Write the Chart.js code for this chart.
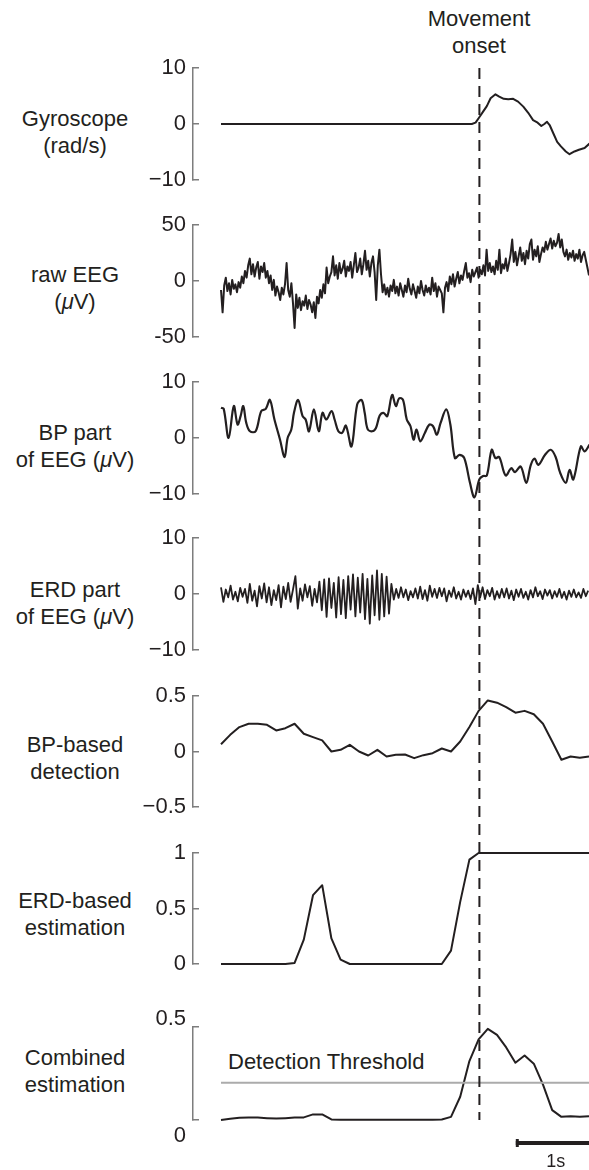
<!DOCTYPE html>
<html>
<head>
<meta charset="utf-8">
<script src="https://cdn.jsdelivr.net/npm/chart.js@4.4.0/dist/chart.umd.min.js"></script>
<style>
  body { margin: 0; background: #fff; }
  #fig { position: relative; width: 589px; height: 1170px; overflow: hidden;
         font-family: 'Liberation Sans', Arial, sans-serif; color: #231f20; }
  #fig canvas { position: absolute; left: 0; }
  .lbl { position: absolute; font-size: 22px; line-height: 27px; white-space: nowrap; }
  .side { left: 0; width: 150px; text-align: center; }
</style>
</head>
<body>
<div id="fig">
  <div class="lbl" style="left:409px;width:140px;top:5px;text-align:center">Movement<br>onset</div>
  <div class="lbl side" style="top:105px">Gyroscope<br>(rad/s)</div>
  <div class="lbl side" style="top:261px">raw EEG<br>(<i>μ</i>V)</div>
  <div class="lbl side" style="top:419px">BP part<br>of EEG (<i>μ</i>V)</div>
  <div class="lbl side" style="top:576px">ERD part<br>of EEG (<i>μ</i>V)</div>
  <div class="lbl side" style="top:731px">BP-based<br>detection</div>
  <div class="lbl side" style="top:887px">ERD-based<br>estimation</div>
  <div class="lbl side" style="top:1044px">Combined<br>estimation</div>
  <div class="lbl" style="left:228px;top:1048px">Detection Threshold</div>
</div>
<script>
// time in seconds, 0 = first sample
const onsetTime = 3.23;
const xMin = -0.35, xMax = 4.6;
const barStart = 3.685, barLength = 1;

// gyroscope (rad/s)
const gyroT = [0, 3.135, 3.182, 3.229, 3.276, 3.323, 3.370, 3.431, 3.478, 3.534, 3.591, 3.652, 3.713, 3.779, 3.840,
  3.901, 3.958, 4.004, 4.042, 4.075, 4.108, 4.155, 4.202, 4.249, 4.310, 4.357, 4.418, 4.474, 4.545, 4.606];
const gyroV = [0, 0, 0.24, 1.2, 2.2, 3.2, 4.6, 5.3, 4.9, 4.5, 4.4, 4.5, 4.0, 3.1, 2.0,
  0.7, 0.24, -0.36, 0, 0.4, -0.18, -1.7, -3.2, -4.0, -4.9, -5.4, -4.9, -4.6, -4.3, -3.5];

// raw EEG (uV), one sample every 0.02 s
const rawStep = 0.02;
const rawEeg = [
  -8, -28, -4, 3, -9, -2, -12, 1, -7, -3,
  -10, -1, -6, 4, -2, 9, 3, 14, 20, 6,
  15, 4, 12, 17, 2, 13, 8, 16, 3, 9,
  -2, 5, -8, 1, -13, -5, -10, -17, -6, -12,
  -3, 16, -8, -14, -2, -20, -42, -12, -24, -15,
  -26, -18, -22, -13, -25, -17, -21, -28, -19, -33,
  -14, -20, -8, -15, -3, -11, 12, -2, 4, 8,
  22, 5, 14, 2, 16, 7, 11, 18, 4, 13,
  9, 17, 3, 14, 25, 8, 12, 20, 6, 15,
  27, 10, 18, 4, 16, 22, 8, -17, 14, 28,
  6, -10, -3, -12, -6, -14, -4, -9, 1, -11,
  -5, -13, -2, -8, -14, -4, -10, 2, -7, -12,
  -3, -9, -15, -5, -11, 0, -8, -13, -4, -10,
  -6, -12, 3, -9, -2, -14, -5, -8, -11, -28,
  -6, -1, -9, 4, -3, 6, -5, 2, 8, -2,
  5, 1, 9, 16, 3, 7, -1, 10, 4, 8,
  12, 3, 10, 6, 14, 5, 28, 9, 16, 8,
  13, 6, 18, 10, 28, 7, 15, 11, 20, 9,
  16, 24, 37, 17, 26, 14, 22, 30, 18, 25,
  15, 27, 20, 33, 37, 19, 28, 22, 31, 17,
  24, 30, 26, 35, 28, 33, 38, 29, 36, 31,
  34, 42, 30, 37, 26, 22, 28, 19, 25, 21,
  27, 18, 24, 20, 28, 17, 23, 26, 19, 12,
  5
];

// BP part of EEG (uV)
const bpT = [0.00, 0.034, 0.095, 0.160, 0.207, 0.245, 0.278, 0.316, 0.362, 0.433, 0.503, 0.560, 0.611, 0.668, 0.738,
  0.795, 0.833, 0.879, 0.912, 0.964, 1.020, 1.058, 1.100, 1.161, 1.222, 1.269, 1.316, 1.382, 1.420, 1.467,
  1.514, 1.561, 1.631, 1.702, 1.758, 1.796, 1.833, 1.890, 1.937, 1.984, 2.031, 2.078, 2.139, 2.186, 2.228,
  2.275, 2.322, 2.369, 2.407, 2.444, 2.491, 2.548, 2.604, 2.651, 2.698, 2.745, 2.816, 2.867, 2.924, 2.980,
  3.041, 3.112, 3.168, 3.229, 3.276, 3.323, 3.384, 3.431, 3.478, 3.558, 3.628, 3.675, 3.746, 3.816, 3.873,
  3.920, 3.967, 4.051, 4.122, 4.183, 4.239, 4.310, 4.357, 4.404, 4.498, 4.545, 4.606];
const bpV = [5.4, 5.2, 0, 5.7, 2.4, 3.9, 5.7, 2.7, 1.2, 1.2, 4.8, 5.2, 6.8, 3.3, -0.3,
  -3.4, 0, 1.5, 4.5, 6.8, 3.9, 3.3, 1.2, 5.1, 1.2, 4.5, 3.3, 4.8, 3.3, 1.2,
  0.9, 2.2, -1.5, 6.0, 6.8, 4.5, 1.6, 1.2, 1.8, 4.0, 4.5, 3.9, 7.7, 5.7, 7.1,
  6.8, 3.3, 2.1, -0.3, 1.5, -0.6, 0.9, 2.4, 2.1, 0.6, 2.7, 5.1, 2.4, -3.6, -3.0,
  -3.6, -8.0, -10.6, -7.4, -6.8, -6.7, -2.1, -3.6, -3.4, -6.7, -5.4, -6.1, -5.1, -8.0, -4.8,
  -3.7, -4.8, -3.0, -2.1, -3.4, -6.2, -8.0, -5.7, -7.4, -1.5, -2.4, -1.2];

// ERD part of EEG (uV), one sample every 0.03 s
const erdStep = 0.03;
const erdPart = [
  1.2, -1.4, 0.8, -0.6, 1.5, -1.0, 0.4, -1.3, 1.1, -0.5,
  0.9, -1.6, 1.8, -1.2, 0.6, -2.2, 1.4, -0.8, 1.9, -1.5,
  1.2, -2.0, 0.7, -1.1, 1.6, -2.4, 1.3, -0.9, 2.0, -1.4,
  0.8, 3.2, -2.6, 1.0, -1.2, 1.7, -0.6, 1.4, -2.1, 0.9,
  -1.5, 2.2, -2.9, 2.6, -4.1, 2.8, -2.5, 2.0, -4.2, 3.0,
  -3.6, 2.5, -4.3, 3.2, -2.8, 3.5, -4.0, 2.9, -3.3, 3.6,
  -4.5, 2.7, -5.3, 3.3, -3.8, 4.2, -4.6, 3.6, -4.0, 3.1,
  -3.5, 1.8, -1.0, 0.9, -0.7, 1.2, -0.6, 0.8, -1.1, 0.5,
  -0.6, 1.0, -0.8, 1.3, -0.9, 0.7, -1.2, 1.5, -0.5, 0.9,
  -0.7, 1.1, -0.4, 1.0, -1.3, 0.6, -0.5, 1.2, -0.8, 0.4,
  -1.0, 0.8, -0.5, 0.6, -0.9, 1.0, -1.8, 1.6, -0.6, 1.2,
  -0.9, 0.7, -0.4, 1.1, -1.0, 0.5, -0.7, 0.9, -0.6, 1.0,
  -0.8, 0.6, -1.1, 0.8, -0.5, 0.9, -0.7, 0.4, -1.0, 0.7,
  -0.6, 1.2, -0.4, 0.5, -0.9, 0.8, -0.3, 0.7, -0.8, 0.5,
  -0.5, 0.9, -0.7, 0.4, -1.0, 0.6, -0.5, 0.8, -0.6, 0.3,
  -0.7, 0.9, -0.4, 0.6
];

// detector outputs, one value every 0.115 s
const detStep = 0.115;
const bpDetection = [0.065, 0.15, 0.22, 0.25, 0.25, 0.24, 0.19, 0.21, 0.25, 0.16,
  0.13, 0.10, 0.0, 0.015, 0.06, 0.0, -0.036, 0.015, -0.045, -0.03,
  -0.027, -0.06, -0.033, -0.015, 0.027, 0.0, 0.09, 0.22, 0.366, 0.46,
  0.44, 0.40, 0.35, 0.366, 0.336, 0.25, 0.09, -0.074, -0.045, -0.057, -0.045];
const erdEstimation = [0, 0, 0, 0, 0, 0, 0, 0, 0.01, 0.22,
  0.62, 0.71, 0.23, 0.04, 0, 0, 0, 0, 0, 0,
  0, 0, 0, 0, 0, 0.12, 0.56, 0.94, 1, 1,
  1, 1, 1, 1, 1, 1, 1, 1, 1, 1, 1];
const combined = [0.0, 0.007, 0.012, 0.013, 0.013, 0.01, 0.008, 0.01, 0.013, 0.014,
  0.03, 0.03, 0.003, 0.002, 0.002, 0.002, 0.001, 0.001, 0.001, 0.001,
  0.001, 0.001, 0.001, 0.002, 0.003, 0.017, 0.125, 0.317, 0.433, 0.49,
  0.458, 0.39, 0.308, 0.347, 0.303, 0.19, 0.053, 0.017, 0.02, 0.017, 0.02];
const threshold = 0.2;

// y ticks per panel
const gyroTicks = [-10, 0, 10], gyroLabels = ['\u221210', '0', '10'];
const rawTicks = [-50, 0, 50], rawLabels = ['-50', '0', '50'];
const bpTicks = [-10, 0, 10], bpLabels = ['\u221210', '0', '10'];
const erdTicks = [-10, 0, 10], erdLabels = ['\u221210', '0', '10'];
const bpDetTicks = [-0.5, 0, 0.5], bpDetLabels = ['\u22120.5', '0', '0.5'];
const erdEstTicks = [0, 0.5, 1], erdEstLabels = ['0', '0.5', '1'];
const combTicks = [0, 0.5], combLabels = [['', '', '0'], ['0.5', '']];

const ink = '#231f20';
const axisGrey = '#7d7d7d';
const fontFamily = "'Liberation Sans', Arial, sans-serif";
const axisX = 193;
const dashPattern = [11, 7];
const dashStartY = 68;

const pts = (ts, vs) => vs.map((v, i) => ({ x: ts[i], y: v }));
const sampled = (vs, step) => vs.map((v, i) => ({ x: i * step, y: v }));

const onsetLine = {
  id: 'onsetLine',
  afterDatasetsDraw(chart, args, opts) {
    const x = chart.scales.x.getPixelForValue(onsetTime);
    const area = chart.chartArea;
    const y1 = opts.first ? area.top : 0;
    const y2 = opts.last ? area.bottom : chart.height;
    const period = dashPattern[0] + dashPattern[1];
    const ctx = chart.ctx;
    ctx.save();
    ctx.strokeStyle = ink;
    ctx.lineWidth = 2;
    ctx.setLineDash(dashPattern);
    ctx.lineDashOffset = (((opts.top + y1 - dashStartY) % period) + period) % period;
    ctx.beginPath();
    ctx.moveTo(x, y1);
    ctx.lineTo(x, y2);
    ctx.stroke();
    ctx.restore();
  }
};

const scaleBar = {
  id: 'scaleBar',
  afterDraw(chart, args, opts) {
    if (!opts.show) return;
    const xs = chart.scales.x;
    const x1 = xs.getPixelForValue(barStart);
    const x2 = xs.getPixelForValue(barStart + barLength);
    const y = chart.chartArea.bottom + 23;
    const ctx = chart.ctx;
    ctx.save();
    ctx.strokeStyle = ink;
    ctx.lineWidth = 4;
    ctx.beginPath();
    ctx.moveTo(x1, y);
    ctx.lineTo(x2, y);
    ctx.stroke();
    ctx.lineWidth = 3;
    ctx.beginPath();
    ctx.moveTo(x1 + 1.5, y - 4);
    ctx.lineTo(x1 + 1.5, y + 4);
    ctx.stroke();
    ctx.fillStyle = ink;
    ctx.font = '18px ' + fontFamily;
    ctx.textAlign = 'center';
    ctx.textBaseline = 'middle';
    ctx.fillText('1s', (x1 + x2) / 2, y + 19);
    ctx.restore();
  }
};

// bracket top/bottom of each panel, in page pixels
const panelTop = [68, 225, 382, 538, 696, 853, 1020];
const panelBottom = [180, 337, 494, 650, 807, 964, 1120];
const canvasTop = [0, 203, 360, 516, 674, 831, 998];

const panels = [
  { data: pts(gyroT, gyroV), min: -10, max: 10, ticks: gyroTicks, labels: gyroLabels, width: 2 },
  { data: sampled(rawEeg, rawStep), min: -50, max: 50, ticks: rawTicks, labels: rawLabels, width: 2 },
  { data: pts(bpT, bpV), min: -10, max: 10, ticks: bpTicks, labels: bpLabels, width: 2.2, tension: 0.35 },
  { data: sampled(erdPart, erdStep), min: -10, max: 10, ticks: erdTicks, labels: erdLabels, width: 1.8 },
  { data: sampled(bpDetection, detStep), min: -0.5, max: 0.5, ticks: bpDetTicks, labels: bpDetLabels, width: 2 },
  { data: sampled(erdEstimation, detStep), min: 0, max: 1, ticks: erdEstTicks, labels: erdEstLabels, width: 2 },
  { data: sampled(combined, detStep), min: 0, max: 0.5, ticks: combTicks, labels: combLabels, width: 2,
    extra: [{ x: 0, y: threshold }, { x: xMax, y: threshold }] }
];

const fig = document.getElementById('fig');

panels.forEach((p, i) => {
  const top = canvasTop[i];
  const bottom = i < panels.length - 1 ? canvasTop[i + 1] : 1170;
  const height = bottom - top;
  const canvas = document.createElement('canvas');
  canvas.width = 589;
  canvas.height = height;
  canvas.style.top = top + 'px';
  fig.appendChild(canvas);

  const datasets = [{
    data: p.data,
    borderColor: ink,
    borderWidth: p.width,
    pointRadius: 0,
    tension: p.tension || 0,
    borderJoinStyle: 'round',
    clip: false
  }];
  if (p.extra) {
    datasets.unshift({
      data: p.extra,
      borderColor: '#ababab',
      borderWidth: 2,
      pointRadius: 0,
      clip: false
    });
  }

  new Chart(canvas, {
    type: 'line',
    data: { datasets },
    options: {
      responsive: false,
      animation: false,
      events: [],
      layout: { padding: { top: panelTop[i] - top, bottom: bottom - panelBottom[i], left: 0, right: 0 } },
      plugins: {
        legend: { display: false },
        tooltip: { enabled: false },
        onsetLine: { first: i === 0, last: i === panels.length - 1, top },
        scaleBar: { show: i === panels.length - 1 }
      },
      scales: {
        x: { type: 'linear', min: xMin, max: xMax, display: false },
        y: {
          min: p.min,
          max: p.max,
          afterBuildTicks: s => { s.ticks = p.ticks.map(v => ({ value: v })); },
          afterFit: s => { s.width = axisX; },
          ticks: {
            color: ink,
            padding: 13,
            font: { family: fontFamily, size: 22, lineHeight: '16px' },
            callback: v => p.labels[p.ticks.indexOf(v)]
          },
          grid: { drawOnChartArea: false, tickLength: -6, color: axisGrey, lineWidth: 1.5 },
          border: { color: axisGrey, width: 1.5 }
        }
      }
    },
    plugins: [onsetLine, scaleBar]
  });
});
</script>
</body>
</html>
